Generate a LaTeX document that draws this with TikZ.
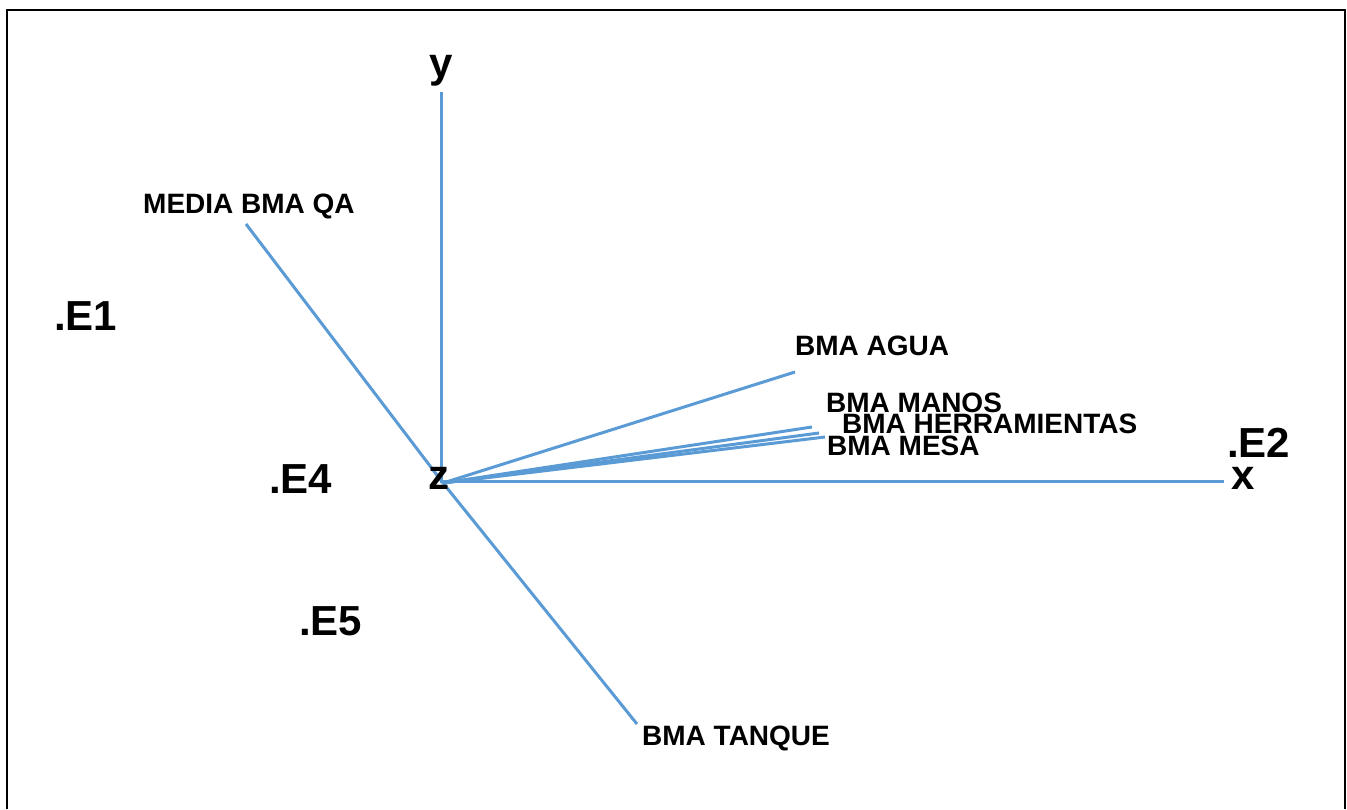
\documentclass[tikz,border=0pt]{standalone}
\usepackage{fontspec}
\setmainfont{Liberation Sans}
\begin{document}
\begin{tikzpicture}[x=1pt,y=-1pt,
  vec/.style={draw={rgb,255:red,91;green,155;blue,213}, line width=3pt},
  small/.style={font=\fontsize{28}{30}\selectfont\bfseries, anchor=base west, inner sep=0pt},
  big/.style={font=\fontsize{42}{44}\selectfont\bfseries, anchor=base west, inner sep=0pt}]
\useasboundingbox (0,0) rectangle (1347,809);
% frame
\draw[line width=2.4pt, black] (7,809) -- (7,10) -- (1345,10) -- (1345,809);

% origin and vector ends
\coordinate (O) at (443,483);
\coordinate (ytop) at (441,92);
\coordinate (ybot) at (441,483);
\coordinate (xend) at (1224,481);
\coordinate (xbeg) at (443,481);
\coordinate (qa) at (246,224);
\coordinate (tanque) at (637,724);
\coordinate (agua) at (795,372);
\coordinate (manos) at (812,427);
\coordinate (herr) at (819,433);
\coordinate (mesa) at (825,437);

\draw[vec] (ybot) -- (ytop);
\draw[vec] (xbeg) -- (xend);
\draw[vec] (qa) -- (O);
\draw[vec] (O) -- (tanque);
\draw[vec] (O) -- (agua);
\draw[vec] (O) -- (manos);
\draw[vec] (O) -- (herr);
\draw[vec] (O) -- (mesa);

% axis labels
\node[big, anchor=base] (ly) at (441,77) {y};
\node[big] (lz) at (428,489) {z};
\node[big] (lx) at (1231,489) {x};

% point labels
\node[big] (e1) at (54,330) {.E1};
\node[big] (e2) at (1227,457) {.E2};
\node[big] (e4) at (269,493) {.E4};
\node[big] (e5) at (299,635) {.E5};

% vector labels
\node[small] (lqa) at (143,213) {MEDIA BMA QA};
\node[small] (lagua) at (795,355) {BMA AGUA};
\node[small] (lmanos) at (826,412) {BMA MANOS};
\node[small] (lherr) at (842,433) {BMA HERRAMIENTAS};
\node[small] (lmesa) at (827,455) {BMA MESA};
\node[small] (ltanque) at (642,745) {BMA TANQUE};
\end{tikzpicture}
\end{document}
